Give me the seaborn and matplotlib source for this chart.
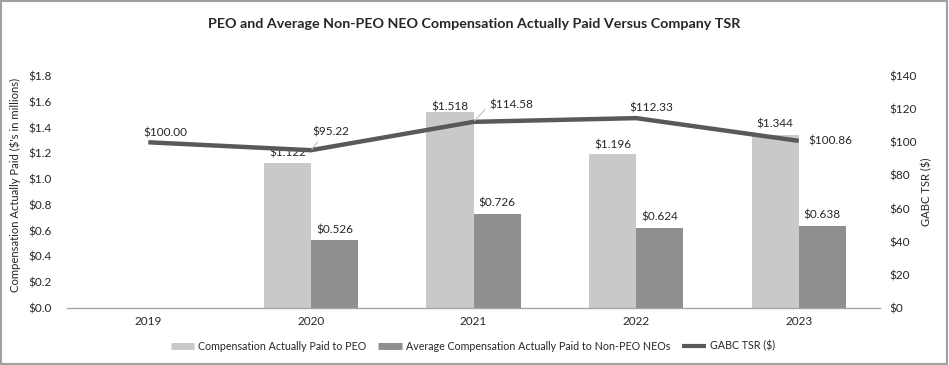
import numpy as np
import pandas as pd
import matplotlib
matplotlib.use("Agg")
import matplotlib.pyplot as plt
from matplotlib.lines import Line2D
from matplotlib.patches import Rectangle
import seaborn as sns

# ---------------- data ----------------
years = ["2019", "2020", "2021", "2022", "2023"]
peo_cap = [np.nan, 1.122, 1.518, 1.196, 1.344]
neo_cap = [np.nan, 0.526, 0.726, 0.624, 0.638]
tsr_values = [100.00, 95.22, 112.33, 114.58, 100.86]
tsr_labels = ["$100.00", "$95.22", "$114.58", "$112.33", "$100.86"]
series_names = ["Compensation Actually Paid to PEO",
                "Average Compensation Actually Paid to Non-PEO NEOs"]
line_name = "GABC TSR ($)"
left_ticks = [0.0, 0.2, 0.4, 0.6, 0.8, 1.0, 1.2, 1.4, 1.6, 1.8]
right_ticks = [0, 20, 40, 60, 80, 100, 120, 140]

# ---------------- style ----------------
sns.set_theme(style="white")
plt.rcParams["font.family"] = ["Lato", "DejaVu Sans"]
TXT = "#262626"
C_PEO = "#c8c9cb"
C_NEO = "#8e8f91"
C_LINE = "#595959"
C_AXIS = "#a6a6a6"
FS = 8.5

df = pd.DataFrame({
    "Year": years * 2,
    "Series": [series_names[0]] * len(years) + [series_names[1]] * len(years),
    "Value": peo_cap + neo_cap,
})

fig = plt.figure(figsize=(9.49, 3.65), dpi=100)
ax = fig.add_axes([67 / 949, 1 - 308 / 365, (880 - 67) / 949, (308 - 76) / 365])

sns.barplot(data=df, x="Year", y="Value", hue="Series", order=years,
            hue_order=series_names, palette=[C_PEO, C_NEO], width=0.58,
            gap=0, saturation=1, errorbar=None, legend=False, ax=ax,
            linewidth=0)

# bar value labels (baseline offsets in points, per series / per year)
bar_label_dy = [[5, 1.0, 3.6, 5, 5.5], [5, 6, 5, 5, 4.5]]
for si, cont in enumerate(ax.containers):
    for yi, bar in enumerate(cont):
        h = bar.get_height()
        if np.isnan(h):
            continue
        ax.annotate(f"${h:.3f}", (bar.get_x() + bar.get_width() / 2, h),
                    xytext=(0, bar_label_dy[si][yi]), textcoords="offset points",
                    ha="center", va="baseline", fontsize=FS, color=TXT)

ax.set_ylim(0, 1.8)
ax.set_yticks(left_ticks)
ax.set_yticklabels([f"${t:.1f}" for t in left_ticks])
ax.set_xlabel("")
ax.set_ylabel("")

# line on secondary axis
ax2 = ax.twinx()
xpos = np.arange(len(years))
sns.lineplot(x=xpos, y=tsr_values, ax=ax2, color=C_LINE, linewidth=3.2,
             solid_capstyle="butt", legend=False)
ax2.set_ylim(0, 140)
ax2.set_yticks(right_ticks)
ax2.set_yticklabels([f"${t}" for t in right_ticks])
ax2.set_ylabel("")

# TSR labels (offsets in points) and leader lines
label_offsets = [(12, 7), (14, 13), (27, 12), (11, 7), (7, 0)]
leaders = [False, True, True, False, False]
for i, (v, lab) in enumerate(zip(tsr_values, tsr_labels)):
    dx, dy = label_offsets[i]
    ha = "left" if i == len(years) - 1 else "center"
    kw = {}
    if leaders[i]:
        kw["arrowprops"] = dict(arrowstyle="-", color="#bfbfbf", lw=0.8,
                                shrinkA=1, shrinkB=1,
                                relpos=(0.0, 0.5) if i == 2 else (0.25, 0.0))
    ax2.annotate(lab, (xpos[i], v), xytext=(dx, dy), textcoords="offset points",
                 ha=ha, va="center", fontsize=FS, color=TXT, **kw)

# axes styling
ax.set_xlim(-0.5, len(years) - 0.5)
for a in (ax, ax2):
    for s in ("left", "right", "top", "bottom"):
        a.spines[s].set_visible(False)
ax.spines["bottom"].set_visible(True)
ax.spines["bottom"].set_color(C_AXIS)
ax.spines["bottom"].set_linewidth(1.0)
ax.set_xticks(xpos)
ax.set_xticklabels(years)
ax.set_xticks(np.arange(-0.5, len(years)), minor=True)
ax.tick_params(axis="x", which="major", length=0, pad=6, labelsize=FS, labelcolor=TXT)
ax.tick_params(axis="x", which="minor", length=4, width=1, color=C_AXIS, direction="out")
ax.tick_params(axis="y", length=0, pad=11, labelsize=FS, labelcolor=TXT)
ax2.tick_params(axis="y", length=0, pad=6.5, labelsize=FS, labelcolor=TXT)
for lbl in ax2.get_yticklabels():
    lbl.set_horizontalalignment("left")

# axis titles
fig.text(15 / 949, 1 - 185 / 365, "Compensation Actually Paid ($'s in millions)",
         rotation=90, ha="center", va="center", fontsize=8.1, color=TXT)
fig.text(927 / 949, 1 - 192 / 365, "GABC TSR ($)", rotation=90,
         ha="center", va="center", fontsize=8.1, color=TXT)

# title
fig.text(0.5, 1 - 24 / 365,
         "PEO and Average Non-PEO NEO Compensation Actually Paid Versus Company TSR",
         ha="center", va="center", fontsize=10.3, fontweight="bold", color=TXT)

# legend
handles = [Line2D([], [], color=C_PEO, lw=5, solid_capstyle="butt"),
           Line2D([], [], color=C_NEO, lw=5, solid_capstyle="butt"),
           Line2D([], [], color=C_LINE, lw=3, solid_capstyle="butt")]
fig.legend(handles, series_names + [line_name], loc="center",
           bbox_to_anchor=(473 / 949, 1 - 346 / 365), ncol=3, frameon=False,
           fontsize=7.7, handlelength=2.2, handletextpad=0.4, columnspacing=1.1,
           labelcolor=TXT)

# outer frame
fig.patches.append(Rectangle((0.001, 0.002), 0.997, 0.995, transform=fig.transFigure,
                             fill=False, ec="#a0a0a0", lw=1.5))

fig.savefig("out.png", dpi=100)
